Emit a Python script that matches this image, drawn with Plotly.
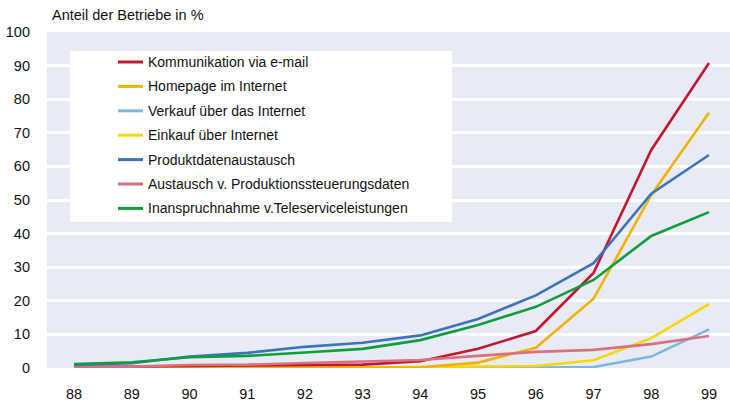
import plotly.graph_objects as go

years = ["88", "89", "90", "91", "92", "93", "94", "95", "96", "97", "98", "99"]

names = [
    "Kommunikation via e-mail",
    "Homepage im Internet",
    "Verkauf über das Internet",
    "Einkauf über Internet",
    "Produktdatenaustausch",
    "Austausch v. Produktionssteuerungsdaten",
    "Inanspruchnahme v.Teleserviceleistungen",
]

email = [0.3, 0.4, 0.6, 0.7, 0.9, 1.0, 2.0, 5.7, 11.0, 28.3, 64.9, 90.8]
homepage = [0.0, 0.0, 0.0, 0.0, 0.0, 0.0, 0.2, 1.6, 6.0, 20.6, 51.5, 76.0]
verkauf = [0.0, 0.0, 0.0, 0.0, 0.0, 0.0, 0.0, 0.1, 0.1, 0.3, 3.4, 11.5]
einkauf = [0.0, 0.0, 0.0, 0.0, 0.0, 0.1, 0.3, 0.4, 0.6, 2.3, 8.9, 19.0]
produkt = [0.9, 1.4, 3.4, 4.5, 6.3, 7.5, 9.7, 14.6, 21.6, 31.2, 51.9, 63.4]
austausch = [0.4, 0.4, 0.9, 1.0, 1.5, 1.9, 2.4, 3.6, 4.8, 5.4, 7.1, 9.5]
teleservice = [1.2, 1.7, 3.2, 3.6, 4.6, 5.7, 8.3, 12.8, 18.2, 26.2, 39.3, 46.4]

series = [email, homepage, verkauf, einkauf, produkt, austausch, teleservice]
colors = ["#C3172E", "#F2B300", "#7DB7DC", "#F9D800", "#3C74BA", "#D8717F", "#0C9F3B"]

y_ticks = [0, 10, 20, 30, 40, 50, 60, 70, 80, 90, 100]

FONT = "Liberation Sans, Arial, sans-serif"

fig = go.Figure()
draw_order = [2, 3, 1, 0, 5, 4, 6]
for i in draw_order:
    fig.add_trace(go.Scatter(
        x=years, y=series[i], name=names[i], mode="lines",
        line=dict(color=colors[i], width=2.6), showlegend=False,
    ))

# manual legend (white box, line samples, labels) in paper coords (plot 47..730 x 32..368)
PW = 683.0
PH = 336.0
def px(x):
    return (x - 47) / PW
def py(y):
    return (368 - y) / PH

shapes = [dict(type="rect", xref="paper", yref="paper",
               x0=px(70), x1=px(452), y0=py(222), y1=py(51),
               fillcolor="white", line=dict(width=0), layer="below")]
annotations = []
for k, (nm, c) in enumerate(zip(names, colors)):
    yy = py(62 + k * 24.4)
    shapes.append(dict(type="line", xref="paper", yref="paper",
                       x0=px(118), x1=px(143), y0=yy, y1=yy,
                       line=dict(color=c, width=3), layer="above"))
    annotations.append(dict(text=nm, xref="paper", yref="paper",
                            x=px(146), y=yy, xanchor="left", yanchor="middle",
                            showarrow=False, font=dict(size=14, color="#111", family=FONT)))

annotations.append(dict(text="Anteil der Betriebe in %", xref="paper", yref="paper",
                        x=px(50), y=py(15), xanchor="left", yanchor="middle",
                        showarrow=False, font=dict(size=14.5, color="#111", family=FONT)))

fig.update_layout(
    width=730, height=403,
    margin=dict(l=47, r=0, t=32, b=35, autoexpand=False),
    paper_bgcolor="white",
    plot_bgcolor="#E8EBF5",
    font=dict(family=FONT, size=14, color="#111"),
    shapes=shapes,
    annotations=annotations,
    showlegend=False,
)
fig.update_xaxes(type="category", range=[-0.468, 11.364], showgrid=False, zeroline=False,
                 showline=False, ticks="", ticklabelstandoff=15, automargin=False,
                 tickfont=dict(size=14.5, family=FONT, color="#111"))
fig.update_yaxes(range=[0, 100], tickvals=y_ticks, showgrid=True, gridcolor="white",
                 gridwidth=3, zeroline=False, showline=False, ticks="", automargin=False,
                 ticklabelstandoff=16, tickfont=dict(size=14.5, family=FONT, color="#111"))

fig.write_html("out.html", config={"displayModeBar": False},
               post_script="document.body.style.margin='0px';document.body.style.overflow='hidden';")
